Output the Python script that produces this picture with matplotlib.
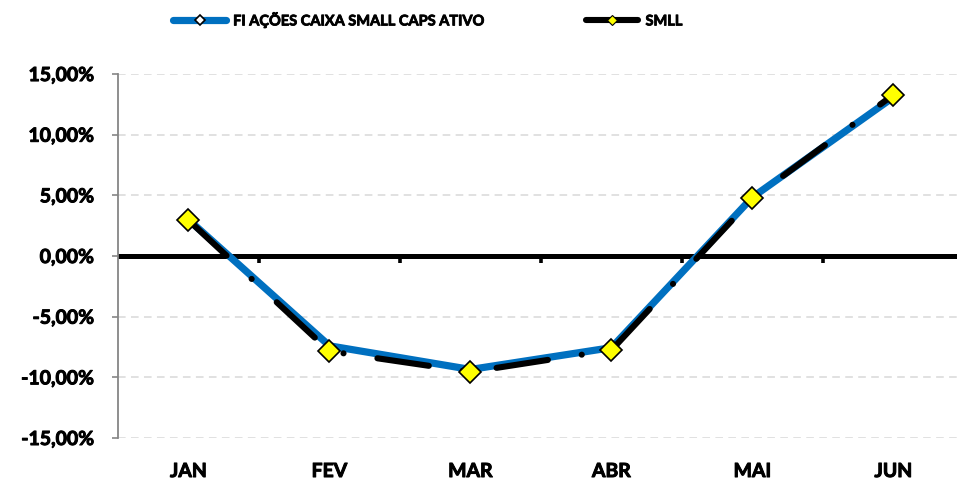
import matplotlib.pyplot as plt
import matplotlib.patheffects as pe
from matplotlib.lines import Line2D
from matplotlib.ticker import FuncFormatter

# Monthly returns (%) - fund vs. SMLL index
months = ["JAN", "FEV", "MAR", "ABR", "MAI", "JUN"]
fund_returns = [3.0, -7.4, -9.35, -7.55, 4.85, 13.1]
smll_returns = [2.95, -7.85, -9.55, -7.75, 4.75, 13.3]
fund_label = "FI AÇÕES CAIXA SMALL CAPS ATIVO"
smll_label = "SMLL"

plt.rcParams["font.family"] = ["Lato", "DejaVu Sans"]
plt.rcParams["font.weight"] = "bold"

BLUE = "#0070C0"
GREY = "#868686"
heavy = [pe.withStroke(linewidth=0.7, foreground="black")]

fig = plt.figure(figsize=(9.57, 4.84), dpi=100)
ax = fig.add_axes([0.1233, 0.095, 0.884, 0.752])

x = list(range(len(months)))

ax.plot(x, fund_returns, color=BLUE, lw=5.2, solid_capstyle="round", zorder=3)
ax.plot(x, smll_returns, color="black", lw=4.4, dash_capstyle="round",
        dashes=(8.5, 5.6, 0.01, 5.6), marker="D", ms=11.5, mfc="#FFFF00",
        mec="black", mew=1.2, zorder=4)

ax.set_xlim(-0.5, 5.5)
ax.set_ylim(-15, 15)
ax.set_yticks(range(-15, 16, 5))
ax.yaxis.set_major_formatter(
    FuncFormatter(lambda v, _: f"{v:.2f}%".replace(".", ",")))
ax.set_xticks(x, months)

ax.grid(axis="y", color="#D9D9D9", ls=(0, (5, 3.5)), lw=1.1, zorder=0)
for side in ("top", "right", "bottom"):
    ax.spines[side].set_visible(False)
ax.spines["left"].set_color(GREY)
ax.spines["left"].set_linewidth(1.3)

ax.tick_params(axis="y", direction="out", length=4, width=1.2, color=GREY,
               pad=13, labelsize=14)
ax.tick_params(axis="x", length=0, pad=18, labelsize=14)
for lbl in ax.get_xticklabels() + ax.get_yticklabels():
    lbl.set_path_effects(heavy)

# zero line with category separator ticks
ax.axhline(0, color="black", lw=3.6, zorder=2)
zero = ax.secondary_xaxis(0.5)
for sp in zero.spines.values():
    sp.set_visible(False)
zero.set_xticks([i + 0.5 for i in x[:-1]])
zero.set_xticklabels([])
zero.tick_params(direction="in", length=5, width=2.6, color="black")

handles = [
    Line2D([], [], color=BLUE, lw=5.2, solid_capstyle="round", marker="D",
           ms=5, mfc="white", mec="black", mew=1.2),
    Line2D([], [], color="black", lw=4.4, solid_capstyle="round", marker="D",
           ms=5, mfc="#FFFF00", mec="black", mew=0.8),
]
leg = fig.legend(handles, [fund_label, smll_label], loc="center",
                 bbox_to_anchor=(0.447, 0.959), ncol=2, frameon=False,
                 fontsize=10.5, handlelength=3.6, handletextpad=0.5,
                 columnspacing=7.0)
for t in leg.get_texts():
    t.set_path_effects([pe.withStroke(linewidth=0.6, foreground="black")])

fig.savefig("out.png", dpi=100)
